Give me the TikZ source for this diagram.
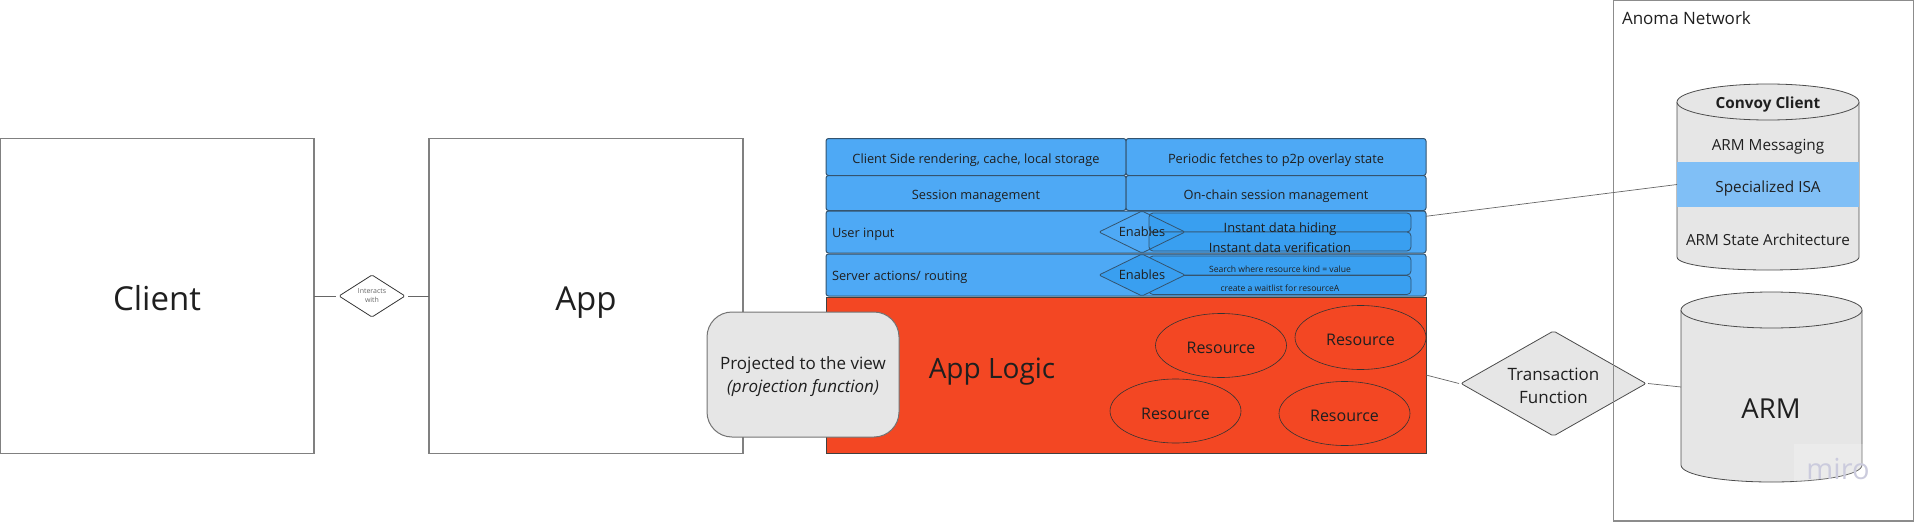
\documentclass[tikz,border=0pt]{standalone}
\usepackage{fontspec}
\setmainfont{Open Sans}
\usetikzlibrary{positioning, shapes.geometric}

\definecolor{viewblue}{HTML}{4EA9F5}
\definecolor{innerblue}{HTML}{399FF0}
\definecolor{bandblue}{HTML}{80BFF6}
\definecolor{logicred}{HTML}{F34723}
\definecolor{softgray}{HTML}{E6E6E6}
\definecolor{inkgray}{HTML}{1F1F1F}
\definecolor{edgeblue}{HTML}{34546F}
\definecolor{miroink}{HTML}{CBCBDD}

\newcommand{\fsize}[1]{\fontsize{#1}{#1}\selectfont}

\tikzset{
	every node/.style={inner sep=0pt, outer sep=0pt, text=inkgray},
	bigbox/.style={draw=black!50, line width=1.4pt, minimum width=#1, minimum height=315pt, text height=29pt, text depth=0pt},
	cell/.style={draw=edgeblue, line width=1pt, fill=viewblue, rounded corners=2.5pt, minimum width=300pt, minimum height=#1, font=\fsize{12.8}, text height=12.3pt, text depth=0pt},
	rowbox/.style={cell=#1, minimum width=600pt},
	innerbox/.style={draw=edgeblue, line width=.8pt, fill=innerblue, rounded corners=4pt, minimum width=262pt, minimum height=19pt},
	gate/.style={diamond, aspect=2, draw=edgeblue, line width=.8pt, rounded corners=1.5pt, minimum width=86pt, minimum height=42pt, font=\fsize{12.8}},
	resource/.style={ellipse, draw=black!80, line width=.6pt, minimum width=131pt, minimum height=64pt, font=\fsize{16}, text height=16pt, text depth=0pt},
	drumline/.style={draw=black!70, line width=.8pt, fill=softgray},
	link/.style={draw=black!60, line width=.7pt},
}

\begin{document}
\begin{tikzpicture}[x=1pt, y=-1pt]
	\useasboundingbox (0,0) rectangle (1914,522);

	% Client and App
	\node[bigbox=314pt, font=\fsize{33}] (client) at (157,296) {Client};
	\node[bigbox=314pt, font=\fsize{33}] (app) at (586,296) {App};
	\node[diamond, aspect=1.57, draw=black!80, line width=.8pt, rounded corners=1.5pt, minimum width=66pt, minimum height=42pt, align=center, font=\fontsize{7}{9}\selectfont, text=black!60] (interacts) at (372,296) {Interacts\\with};
	\draw[link] (client) -- ([xshift=-3pt]interacts.west);
	\draw[link] ([xshift=3pt]interacts.east) -- (app);

	% App logic with its resources
	\node[draw=black!75, line width=1pt, fill=logicred, minimum width=600pt, minimum height=156pt] (logic) at (1126,375) {};
	\node[font=\fsize{28}] (logiclabel) at (992,372) {App Logic};
	\node[resource] (resA) at (1221,345.5) {Resource};
	\node[resource] (resB) at (1360.5,337.5) {Resource};
	\node[resource] (resC) at (1175.5,411) {Resource};
	\node[resource] (resD) at (1344.5,413.5) {Resource};

	% Blue layers
	\node[cell=37pt] (render) at (976,157) {Client Side rendering, cache, local storage};
	\node[cell=37pt] (fetches) at (1276,157) {Periodic fetches to p2p overlay state};
	\node[cell=35pt] (session) at (976,193) {Session management};
	\node[cell=35pt] (chain) at (1276,193) {On-chain session management};
	\node[rowbox=42pt] (input) at (1126,232) {};
	\node[rowbox=42pt] (server) at (1126,275) {};
	\node[font=\fsize{12.8}, right=6pt of input.west, yshift=-2pt] (inputlabel) {User input};
	\node[font=\fsize{12.8}, right=6pt of server.west, yshift=-2pt] (serverlabel) {Server actions/ routing};

	% Boxes beside the two gates
	\node[innerbox] (hiding) at (1280,222.5) {};
	\node[innerbox] (verify) at (1280,241.5) {};
	\node[innerbox] (search) at (1280,265.5) {};
	\node[innerbox] (waitlist) at (1280,285) {};
	\node[gate] (gateA) at (1142,232) {Enables};
	\node[gate, fill=innerblue] (gateB) at (1142,275) {Enables};
	\node[font=\fsize{12.9}, yshift=-6.5pt] (hidingtext) at (hiding) {Instant data hiding};
	\node[font=\fsize{12.9}, yshift=-6.5pt] (verifytext) at (verify) {Instant data verification};
	\node[font=\fsize{8.6}, yshift=-3.5pt] (searchtext) at (search) {Search where resource kind = value};
	\node[font=\fsize{8.6}, yshift=-3.5pt] (waitlisttext) at (waitlist) {create a waitlist for resourceA};

	% Projection
	\node[draw=black!55, line width=1pt, fill=softgray, rounded corners=25pt, minimum width=192pt, minimum height=125pt, align=center, font=\fontsize{17}{23}\selectfont, text height=40.5pt] (project) at (803,374.5) {Projected to the view\\\textit{(projection function)}};

	% Transaction function and the network frame over it
	\node[diamond, aspect=1.76, draw=black!70, line width=.8pt, rounded corners=2pt, fill=softgray, minimum width=185pt, minimum height=105pt, align=center, font=\fontsize{17}{23}\selectfont, text height=40.5pt] (transaction) at (1553.5,383.5) {Transaction\\Function};
	\node[draw=black!45, line width=1.4pt, minimum width=300pt, minimum height=521pt] (network) at (1763.5,260.5) {};
	\node[font=\fsize{17}, anchor=west] (networklabel) at (1622,18.5) {Anoma Network};

	% Convoy client
	\draw[drumline] (1677,102) -- (1677,257) .. controls (1677,265) and (1718,270) .. (1768,270) .. controls (1818,270) and (1859,265) .. (1859,257) -- (1859,102);
	\draw[drumline] (1768,102) ellipse[x radius=91pt, y radius=18pt];
	\node[fill=bandblue, minimum width=182pt, minimum height=45pt, font=\fsize{15.3}, text height=15pt, text depth=0pt] (isa) at (1768,184.5) {Specialized ISA};
	\node[font=\bfseries\fsize{15.3}] (convoytext) at (1768,105) {Convoy Client};
	\node[font=\fsize{15.3}] (messaging) at (1768,147) {ARM Messaging};
	\node[font=\fsize{15.3}] (statearch) at (1768,239.5) {ARM State Architecture};

	% ARM
	\draw[drumline] (1681,310) -- (1681,465) .. controls (1681,475) and (1722,482) .. (1771.5,482) .. controls (1821,482) and (1862,475) .. (1862,465) -- (1862,310);
	\draw[drumline] (1771.5,310) ellipse[x radius=90.5pt, y radius=18pt];
	\coordinate (armside) at (1681,387);
	\node[font=\fsize{27.5}] (armtext) at (1771,408.5) {ARM};
	\node[fill=white, fill opacity=.2, text opacity=1, font=\fsize{29}, text=miroink, minimum width=88pt, minimum height=50pt] (miro) at (1838,469) {miro};

	% Connectors
	\draw[link] (input.3) -- (isa.west);
	\draw[link] (logic.east) -- ([xshift=-2pt]transaction.west);
	\draw[link] ([xshift=2pt]transaction.east) -- (armside);
\end{tikzpicture}
\end{document}
